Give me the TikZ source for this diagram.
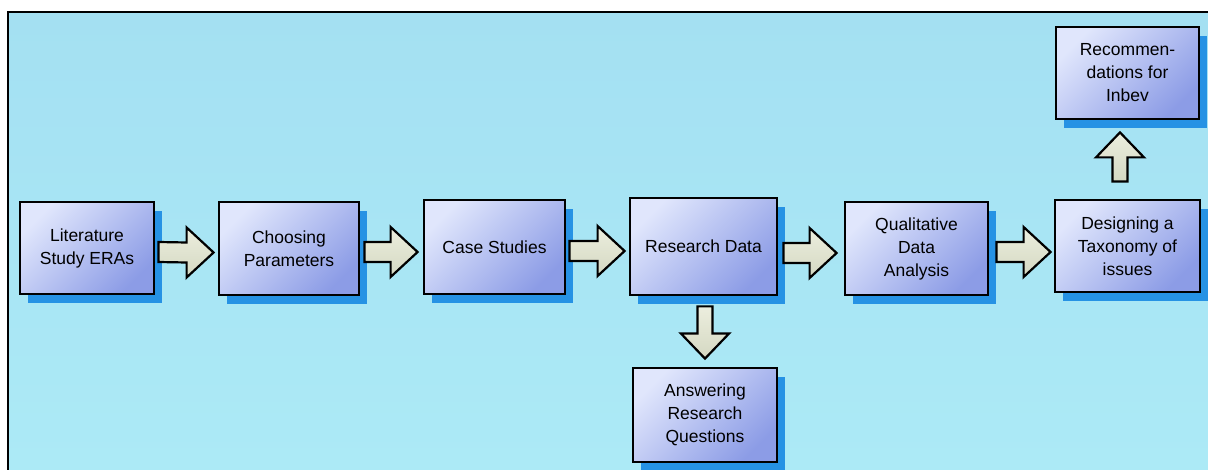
\documentclass[tikz,border=0pt]{standalone}
\usepackage{fontspec}
\setmainfont{Liberation Sans}
\usetikzlibrary{calc,shadows}
\definecolor{bgtop}{RGB}{164,224,242}
\definecolor{bgbot}{RGB}{172,234,246}
\definecolor{boxlight}{RGB}{224,230,252}
\definecolor{boxdark}{RGB}{140,156,230}
\definecolor{shadowblue}{RGB}{38,146,228}
\definecolor{arrowfill}{RGB}{236,238,222}
\definecolor{arrowdark}{RGB}{212,216,194}
\tikzset{
  stepbox/.style={draw=black, line width=2.8pt, inner sep=0pt,
    top color=boxlight, bottom color=boxdark, shading angle=45,
    align=center, font=\fontsize{17.5}{23}\selectfont,
    drop shadow={shadow xshift=8pt, shadow yshift=-9pt, fill=shadowblue, opacity=1}},
  barrow/.style={draw=black, line width=2.2pt, line join=miter,
    top color=arrowfill, bottom color=arrowdark},
}
\newcommand\harrow[2]{\draw[barrow] ($(#1)+(0,-10)$) -- ($(#2)+(-27,-10)$) -- ($(#2)+(-27,-25)$) -- (#2) -- ($(#2)+(-27,25)$) -- ($(#2)+(-27,10)$) -- ($(#1)+(0,10)$) -- cycle;}
\newcommand\varrow[3]{\draw[barrow] ($(#1)+(-7.5,0)$) -- ($(#2)+(-7.5,#3)$) -- ($(#2)+(-24,#3)$) -- (#2) -- ($(#2)+(24,#3)$) -- ($(#2)+(7.5,#3)$) -- ($(#1)+(7.5,0)$) -- cycle;}
\begin{document}
\begin{tikzpicture}[x=1pt,y=-1pt]
\useasboundingbox (0,0) rectangle (1208,470);
\fill[white] (0,0) rectangle (1208,470);
\shade[top color=bgtop, bottom color=bgbot] (8,12) rectangle (1208,470);
\draw[line width=2pt] (8,470) -- (8,12) -- (1208,12);

\node[stepbox, minimum width=134pt, minimum height=92pt] (lit) at (87,248) {Literature\\Study ERAs};
\node[stepbox, minimum width=140pt, minimum height=93pt] (cp) at (289,248.5) {Choosing\\Parameters};
\node[stepbox, minimum width=141pt, minimum height=94pt] (cs) at (494.5,247) {Case Studies};
\node[stepbox, minimum width=147pt, minimum height=97pt] (rd) at (703.5,246.5) {Research Data};
\node[stepbox, minimum width=143pt, minimum height=93pt] (qda) at (916.5,248.5) {Qualitative\\Data\\Analysis};
\node[stepbox, minimum width=145pt, minimum height=92pt] (dt) at (1127.5,246) {Designing a\\Taxonomy of\\issues};
\node[stepbox, minimum width=143pt, minimum height=92pt] (rec) at (1127.5,73) {Recommen-\\dations for\\Inbev};
\node[stepbox, minimum width=144pt, minimum height=94pt] (ans) at (705,415) {Answering\\Research\\Questions};

\coordinate (a1s) at ($(lit.east)+(3,4)$);
\coordinate (a1e) at ($(cp.west)+(-4,4)$);
\coordinate (a2s) at ($(cp.east)+(4,3.5)$);
\coordinate (a2e) at ($(cs.west)+(-5,5)$);
\coordinate (a3s) at ($(cs.east)+(3,4)$);
\coordinate (a3e) at ($(rd.west)+(-4,4.5)$);
\coordinate (a4s) at ($(rd.east)+(5,6.5)$);
\coordinate (a4e) at ($(qda.west)+(-7,4.5)$);
\coordinate (a5s) at ($(qda.east)+(7,3.5)$);
\coordinate (a5e) at ($(dt.west)+(-3,6)$);
\coordinate (a6s) at ($(rd.south)+(1.5,10)$);
\coordinate (a6e) at ($(ans.north)+(0,-8)$);
\coordinate (a7s) at ($(dt.north)+(-7.5,-17)$);
\coordinate (a7e) at ($(rec.south)+(-7.5,12)$);

\harrow{a1s}{a1e}
\harrow{a2s}{a2e}
\harrow{a3s}{a3e}
\harrow{a4s}{a4e}
\harrow{a5s}{a5e}
\varrow{a6s}{a6e}{-25}
\varrow{a7s}{a7e}{25}
\end{tikzpicture}
\end{document}
